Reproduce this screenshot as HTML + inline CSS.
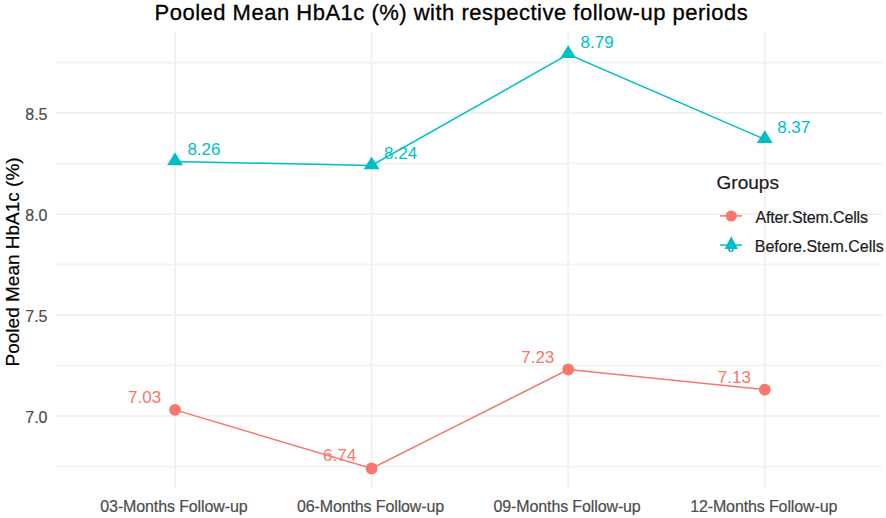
<!DOCTYPE html><html><head><meta charset="utf-8"><style>html,body{margin:0;padding:0;background:#fff;width:886px;height:518px;overflow:hidden}svg{display:block}text{font-family:"Liberation Sans",sans-serif}</style></head><body>
<svg width="886" height="518" viewBox="0 0 886 518">
<rect width="886" height="518" fill="#fff"/>
<line x1="56" x2="882" y1="62.5" y2="62.5" stroke="#F4F4F4" stroke-width="2"/>
<line x1="56" x2="882" y1="163.5" y2="163.5" stroke="#F4F4F4" stroke-width="2"/>
<line x1="56" x2="882" y1="264.5" y2="264.5" stroke="#F4F4F4" stroke-width="2"/>
<line x1="56" x2="882" y1="365.5" y2="365.5" stroke="#F4F4F4" stroke-width="2"/>
<line x1="56" x2="882" y1="466.5" y2="466.5" stroke="#F4F4F4" stroke-width="2"/>
<line x1="56" x2="882" y1="113.0" y2="113.0" stroke="#F2F2F2" stroke-width="2"/>
<line x1="56" x2="882" y1="214.0" y2="214.0" stroke="#F2F2F2" stroke-width="2"/>
<line x1="56" x2="882" y1="315.0" y2="315.0" stroke="#F2F2F2" stroke-width="2"/>
<line x1="56" x2="882" y1="416.0" y2="416.0" stroke="#F2F2F2" stroke-width="2"/>
<line x1="175" x2="175" y1="32" y2="487.8" stroke="#F2F2F2" stroke-width="2"/>
<line x1="371.6" x2="371.6" y1="32" y2="487.8" stroke="#F2F2F2" stroke-width="2"/>
<line x1="568.2" x2="568.2" y1="32" y2="487.8" stroke="#F2F2F2" stroke-width="2"/>
<line x1="764.8" x2="764.8" y1="32" y2="487.8" stroke="#F2F2F2" stroke-width="2"/>
<polyline points="175,409.9 371.6,468.5 568.2,369.5 764.8,389.7" fill="none" stroke="#F8766D" stroke-width="1.5"/>
<polyline points="175,161.5 371.6,165.5 568.2,54.4 764.8,139.3" fill="none" stroke="#00BFC4" stroke-width="1.5"/>
<circle cx="175" cy="409.9" r="5.9" fill="#F8766D"/>
<circle cx="371.6" cy="468.5" r="5.9" fill="#F8766D"/>
<circle cx="568.2" cy="369.5" r="5.9" fill="#F8766D"/>
<circle cx="764.8" cy="389.7" r="5.9" fill="#F8766D"/>
<polygon points="175,152.35 182.90,165.15 167.10,165.15" fill="#00BFC4"/>
<polygon points="371.6,156.39 379.50,169.19 363.70,169.19" fill="#00BFC4"/>
<polygon points="568.2,45.29 576.10,58.09 560.30,58.09" fill="#00BFC4"/>
<polygon points="764.8,130.13 772.70,142.93 756.90,142.93" fill="#00BFC4"/>
<text x="161.1" y="403.4" font-size="17" fill="#F8766D" text-anchor="end">7.03</text>
<text x="356.2" y="461.2" font-size="17" fill="#F8766D" text-anchor="end">6.74</text>
<text x="554.3" y="363.0" font-size="17" fill="#F8766D" text-anchor="end">7.23</text>
<text x="750.9" y="383.2" font-size="17" fill="#F8766D" text-anchor="end">7.13</text>
<text x="187.4" y="154.8" font-size="17" fill="#00BFC4">8.26</text>
<text x="384.0" y="158.8" font-size="17" fill="#00BFC4">8.24</text>
<text x="580.6" y="47.7" font-size="17" fill="#00BFC4">8.79</text>
<text x="777.2" y="132.6" font-size="17" fill="#00BFC4">8.37</text>
<text x="47.5" y="119.5" font-size="16" fill="#4D4D4D" stroke="#4D4D4D" stroke-width="0.2" text-anchor="end">8.5</text>
<text x="47.5" y="220.5" font-size="16" fill="#4D4D4D" stroke="#4D4D4D" stroke-width="0.2" text-anchor="end">8.0</text>
<text x="47.5" y="321.5" font-size="16" fill="#4D4D4D" stroke="#4D4D4D" stroke-width="0.2" text-anchor="end">7.5</text>
<text x="47.5" y="422.5" font-size="16" fill="#4D4D4D" stroke="#4D4D4D" stroke-width="0.2" text-anchor="end">7.0</text>
<text x="173.9" y="511.5" font-size="16" fill="#4D4D4D" stroke="#4D4D4D" stroke-width="0.2" text-anchor="middle" letter-spacing="-0.12">03-Months Follow-up</text>
<text x="370.5" y="511.5" font-size="16" fill="#4D4D4D" stroke="#4D4D4D" stroke-width="0.2" text-anchor="middle" letter-spacing="-0.12">06-Months Follow-up</text>
<text x="567.1" y="511.5" font-size="16" fill="#4D4D4D" stroke="#4D4D4D" stroke-width="0.2" text-anchor="middle" letter-spacing="-0.12">09-Months Follow-up</text>
<text x="763.7" y="511.5" font-size="16" fill="#4D4D4D" stroke="#4D4D4D" stroke-width="0.2" text-anchor="middle" letter-spacing="-0.12">12-Months Follow-up</text>
<text x="154.5" y="19.5" font-size="22" fill="#000" stroke="#000" stroke-width="0.3" letter-spacing="0.5">Pooled Mean HbA1c (%) with respective follow-up periods</text>
<text transform="translate(18.5,261.9) rotate(-90)" x="0" y="0" font-size="19" fill="#000" stroke="#000" stroke-width="0.2" text-anchor="middle">Pooled Mean HbA1c (%)</text>
<text x="716.6" y="189.4" font-size="19" fill="#1A1A1A" stroke="#1A1A1A" stroke-width="0.2">Groups</text>
<line x1="720" x2="742" y1="215.9" y2="215.9" stroke="#F8766D" stroke-width="1.5"/>
<circle cx="731.3" cy="216" r="5.6" fill="#F8766D"/>
<line x1="720" x2="742" y1="245.1" y2="245.1" stroke="#00BFC4" stroke-width="1.5"/>
<polygon points="731.3,236.2 738,249 724.6,249" fill="#00BFC4"/>
<circle cx="730.9" cy="249.4" r="2.7" fill="#00BFC4"/>
<circle cx="730.9" cy="249.9" r="1.1" fill="#fff"/>
<text x="755.5" y="222.7" font-size="16" fill="#1A1A1A" stroke="#1A1A1A" stroke-width="0.2" letter-spacing="-0.15">After.Stem.Cells</text>
<text x="754.8" y="251.8" font-size="16" fill="#1A1A1A" stroke="#1A1A1A" stroke-width="0.2">Before.Stem.Cells</text>
</svg></body></html>
